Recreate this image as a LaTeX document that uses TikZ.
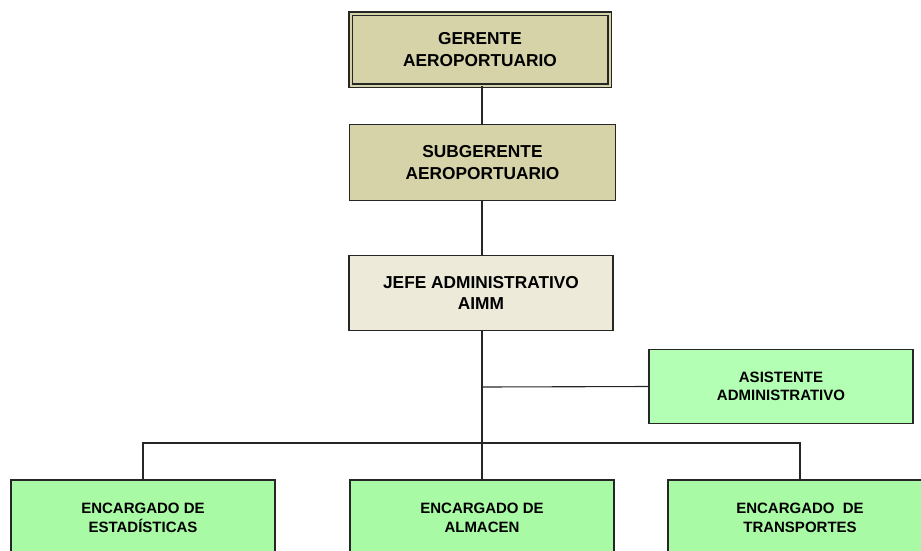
\documentclass[tikz,border=0pt]{standalone}
\usepackage{fontspec}
\setmainfont{Liberation Sans}
\definecolor{khaki}{HTML}{D6D3A9}
\definecolor{jefecol}{HTML}{EDEADA}
\definecolor{asiscol}{HTML}{B3FFB3}
\definecolor{enccol}{HTML}{A9FAA5}
\begin{document}
\begin{tikzpicture}[x=1pt,y=-1pt,
  box/.style={draw=black!85,line width=1.1pt,align=center,inner sep=0pt,minimum width=264pt},
  big/.style={font=\fontsize{17.3}{21.5}\selectfont\bfseries},
  small/.style={font=\fontsize{15}{18.5}\selectfont\bfseries},
  link/.style={draw=black!85,line width=1.1pt}]
\useasboundingbox (0,0) rectangle (921,550);
\node[box,big,fill=khaki,double=khaki,double distance=2pt,minimum width=259pt,minimum height=72pt] (g) at (480,49.5) {GERENTE\\AEROPORTUARIO};
\node[box,big,fill=khaki,minimum width=266pt,minimum height=76pt] (s) at (482.5,162.5) {SUBGERENTE\\AEROPORTUARIO};
\node[box,big,fill=jefecol,minimum width=264pt,minimum height=75pt] (j) at (481,293) {JEFE ADMINISTRATIVO\\AIMM};
\node[box,small,fill=asiscol,minimum width=264pt,minimum height=74pt] (a) at (781,386.5) {ASISTENTE\\ADMINISTRATIVO};
\node[box,small,fill=enccol,minimum height=76pt] (e1) at (143,518) {ENCARGADO DE\\ESTADÍSTICAS};
\node[box,small,fill=enccol,minimum height=76pt] (e2) at (482,518) {ENCARGADO DE\\ALMACEN};
\node[box,small,fill=enccol,minimum height=76pt] (e3) at (800,518) {ENCARGADO\ \ DE\\TRANSPORTES};
\coordinate (jn) at (482,387);
\coordinate (bus) at (482,443);
\path[link] (482,0 |- g.south) -- (482,0 |- s.north);
\path[link] (482,0 |- s.south) -- (482,0 |- j.north);
\path[link] (482,0 |- j.south) -- (jn) -- (bus) -- (e2.north);
\path[link] (jn) -- (a.west);
\path[link] (e1.north) -- (e1.north |- bus) -- (e3.north |- bus) -- (e3.north);
\end{tikzpicture}
\end{document}
